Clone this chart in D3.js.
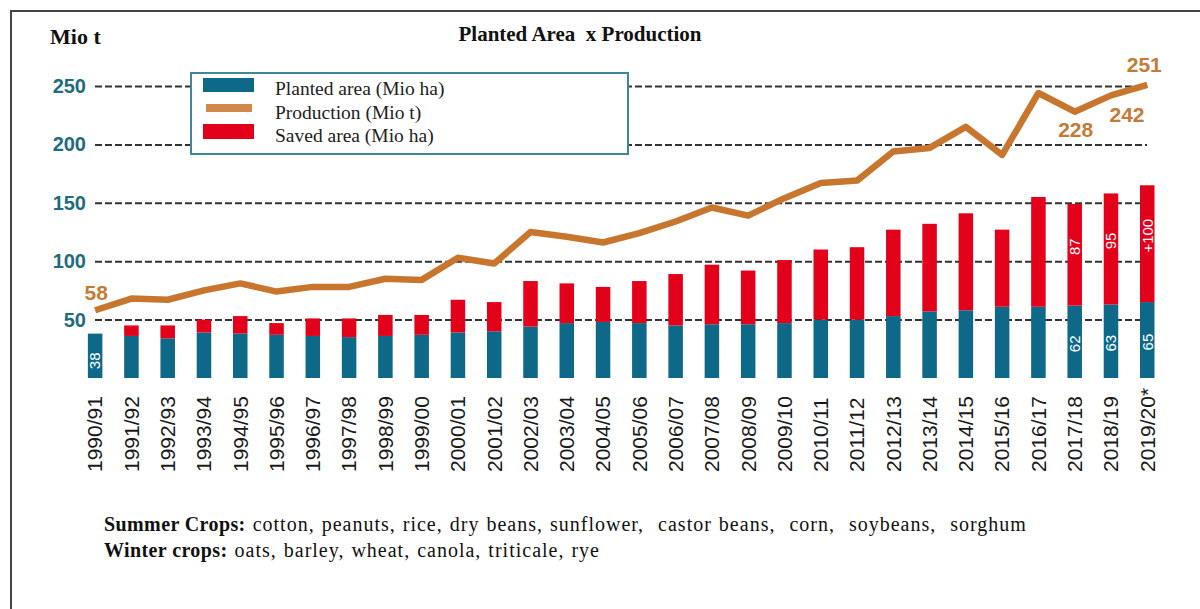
<!DOCTYPE html>
<html>
<head>
<meta charset="utf-8">
<script src="https://cdn.jsdelivr.net/npm/d3@7"></script>
<style>
  body { margin: 0; background: #fff; }
  svg { display: block; }
</style>
</head>
<body>
<div id="canvas"></div>
<script>
// seasons on the x axis
const seasons = ["1990/91","1991/92","1992/93","1993/94","1994/95","1995/96","1996/97","1997/98","1998/99","1999/00",
  "2000/01","2001/02","2002/03","2003/04","2004/05","2005/06","2006/07","2007/08","2008/09","2009/10",
  "2010/11","2011/12","2012/13","2013/14","2014/15","2015/16","2016/17","2017/18","2018/19","2019/20*"];

// planted area (Mio ha), saved area (Mio ha), production (Mio t)
const planted = [38,36,34,39,38,37,36,35,36,37, 39,40,44,47,48,47,45,46,46,47, 50,50,53,57,58,61,61,62,63,65];
const saved = [0,9,11,11,15,10,15,16,18,17, 28,25,39,34,30,36,44,51,46,54, 60,62,74,75,83,66,94,87,95,100];
const production = [58,68,67,75,81,74,78,78,85,84, 103,98,125,121,116,124,134,146,139,154, 167,169,194,197,215,191,244,228,242,251];

const yTicks = [50, 100, 150, 200, 250];

// labels written on the chart
const plantedLabels = [["1990/91","38"],["2017/18","62"],["2018/19","63"],["2019/20*","65"]];
const savedLabels = [["2017/18","87"],["2018/19","95"],["2019/20*","+100"]];
const prodLabels = [["1990/91","58"],["2017/18","228"],["2018/19","242"],["2019/20*","251"]];

const blue = "#0e6888", red = "#e3001b", orange = "#c8762e", teal = "#1d6c80";
const sans = "'Liberation Sans', Arial, sans-serif";
const serif = "'Liberation Serif', 'Times New Roman', serif";

const width = 1200, height = 609;
const svg = d3.select("#canvas").append("svg")
  .attr("width", width).attr("height", height);

// frame (only left and top edges are visible)
svg.append("path")
  .attr("d", "M11,609 V11 H1200")
  .attr("fill", "none").attr("stroke", "#444").attr("stroke-width", 2);

const x = d3.scaleBand().domain(seasons).range([77, 1165.4]).paddingInner(0.6).paddingOuter(0.3);
const y = d3.scaleLinear().domain([0, 250]).range([378, 86]);
const cx = s => x(s) + x.bandwidth() / 2;

// dashed gridlines + y labels
const yAxis = svg.append("g")
  .attr("transform", "translate(95,0)")
  .call(d3.axisLeft(y).tickValues(yTicks).tickSize(-1052).tickPadding(9));
yAxis.select(".domain").remove();
yAxis.selectAll("line")
  .attr("stroke", "#333").attr("stroke-width", 2).attr("stroke-dasharray", "7,3");
yAxis.selectAll("text")
  .attr("fill", teal).style("font-family", sans).style("font-size", "20px").style("font-weight", "bold");

// stacked bars
const g = svg.append("g");
g.selectAll("rect.planted").data(seasons).enter().append("rect")
  .attr("class", "planted")
  .attr("x", d => x(d)).attr("width", x.bandwidth())
  .attr("y", (d, i) => y(planted[i]))
  .attr("height", (d, i) => y(0) - y(planted[i]))
  .attr("fill", blue);
g.selectAll("rect.saved").data(seasons).enter().append("rect")
  .attr("class", "saved")
  .attr("x", d => x(d)).attr("width", x.bandwidth())
  .attr("y", (d, i) => y(planted[i] + saved[i]))
  .attr("height", (d, i) => y(planted[i]) - y(planted[i] + saved[i]))
  .attr("fill", red);

// white value labels inside bars
function barLabel(s, txt, lo, hi, shift) {
  const my = (y(lo) + y(hi)) / 2 + shift;
  g.append("text")
    .attr("transform", `translate(${cx(s)},${my}) rotate(-90)`)
    .attr("text-anchor", "middle").attr("dy", "0.35em")
    .attr("fill", "#fff").style("font-family", sans).style("font-size", "15px")
    .text(txt);
}
plantedLabels.forEach(([s, t]) => {
  const i = seasons.indexOf(s);
  barLabel(s, t, 0, planted[i], i === 0 ? 5 : 2);
});
savedLabels.forEach(([s, t]) => {
  const i = seasons.indexOf(s);
  barLabel(s, t, planted[i], planted[i] + saved[i], -8);
});

// production line
const line = d3.line().x((d, i) => cx(seasons[i])).y(d => y(d));
svg.append("path")
  .datum(production)
  .attr("d", line)
  .attr("fill", "none").attr("stroke", orange).attr("stroke-width", 6.5)
  .attr("stroke-linejoin", "round");

// production value labels
const prodOffset = { "1990/91": [1, -10], "2017/18": [1, 25], "2018/19": [16, 27], "2019/20*": [-3, -13] };
prodLabels.forEach(([s, t]) => {
  const i = seasons.indexOf(s);
  const o = prodOffset[s];
  svg.append("text")
    .attr("x", cx(s) + o[0]).attr("y", y(production[i]) + o[1])
    .attr("text-anchor", "middle")
    .attr("fill", "#c47b36").style("font-family", sans).style("font-size", "21px").style("font-weight", "bold")
    .text(t);
});

// x axis labels
svg.append("g").selectAll("text").data(seasons).enter().append("text")
  .attr("transform", d => `translate(${cx(d)},472) rotate(-90)`)
  .attr("dy", "0.35em")
  .attr("fill", "#1a1a1a").style("font-family", sans).style("font-size", "21px")
  .text(d => d);

// legend
const legend = svg.append("g");
legend.append("rect")
  .attr("x", 191).attr("y", 73).attr("width", 437).attr("height", 81)
  .attr("fill", "#fff").attr("stroke", "#3d8796").attr("stroke-width", 2);
legend.append("rect").attr("x", 203).attr("y", 78).attr("width", 51).attr("height", 14).attr("fill", blue);
legend.append("line").attr("x1", 206).attr("x2", 252).attr("y1", 108).attr("y2", 108)
  .attr("stroke", "#d0884a").attr("stroke-width", 8);
legend.append("rect").attr("x", 203).attr("y", 124).attr("width", 51).attr("height", 15).attr("fill", red);
const legendNames = ["Planted area (Mio ha)", "Production (Mio t)", "Saved area (Mio ha)"];
legend.selectAll("text.lg").data(legendNames).enter().append("text")
  .attr("class", "lg")
  .attr("x", 275).attr("y", (d, i) => 95 + i * 23.5)
  .attr("fill", "#222").style("font-family", serif).style("font-size", "19.5px")
  .text(d => d);

// titles
svg.append("text").attr("x", 50).attr("y", 44)
  .style("font-family", serif).style("font-size", "22px").style("font-weight", "bold").attr("fill", "#111")
  .text("Mio t");
svg.append("text").attr("x", 580).attr("y", 41).attr("text-anchor", "middle")
  .style("font-family", serif).style("font-size", "21px").style("font-weight", "bold").style("white-space", "pre")
  .attr("fill", "#111")
  .text("Planted Area  x Production");

// footer notes
const notes = [["Summer Crops:", " cotton, peanuts, rice, dry beans, sunflower,  castor beans,  corn,  soybeans,  sorghum"],
               ["Winter crops:", " oats, barley, wheat, canola, triticale, rye"]];
notes.forEach(([b, r], i) => {
  const t = svg.append("text").attr("x", 104).attr("y", 531 + i * 26)
    .style("font-family", serif).style("font-size", "20px").style("white-space", "pre").attr("fill", "#111");
  t.append("tspan").style("font-weight", "bold").style("letter-spacing", "0.4px").text(b);
  t.append("tspan").style("letter-spacing", "1px").style("word-spacing", "1px").text(r);
});
</script>
</body>
</html>
